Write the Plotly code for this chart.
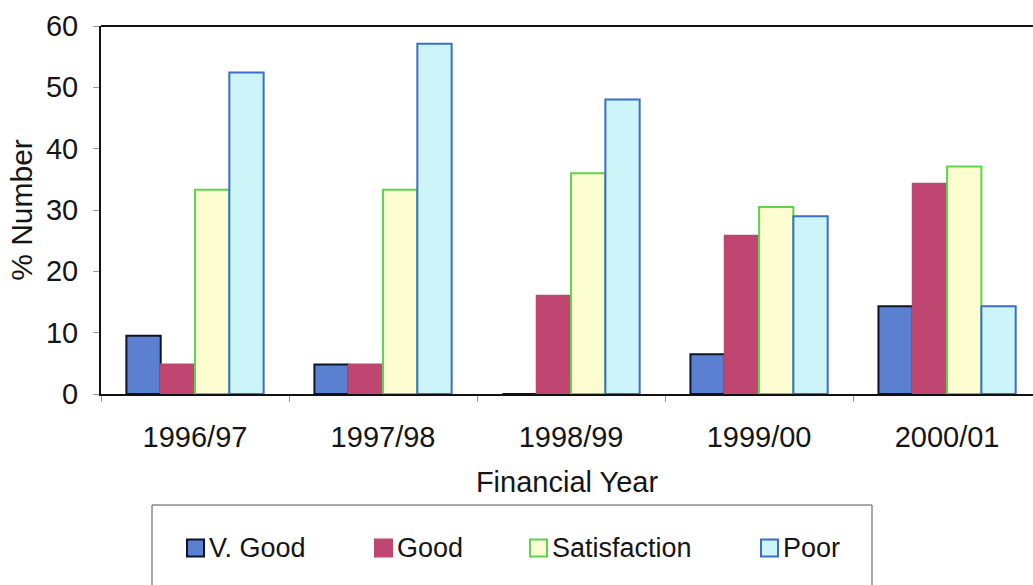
import plotly.graph_objects as go

years = ["1996/97", "1997/98", "1998/99", "1999/00", "2000/01"]
v_good = [9.5, 4.8, 0.0, 6.5, 14.3]
good = [4.8, 4.8, 16.0, 25.8, 34.3]
satisfaction = [33.3, 33.3, 36.0, 30.5, 37.1]
poor = [52.4, 57.1, 48.0, 29.0, 14.3]

series = [
    ("V. Good", v_good, "#5b80d2", "#0d1428"),
    ("Good", good, "#bf4670", "#bf4670"),
    ("Satisfaction", satisfaction, "#fdfdd2", "#5fd44e"),
    ("Poor", poor, "#cdf5f9", "#3b6fc6"),
]

FONT = "Liberation Sans, Arial, sans-serif"
TXT = "#151515"

W, H = 1033, 585
L, T, B, R = 101, 26, 191, 0
pw = W - L - R
ph = H - T - B


def px_x(x):
    return (x - L) / pw


def px_y(y):
    return (H - B - y) / ph


fig = go.Figure()
for name, vals, fill, edge in series:
    fig.add_trace(go.Bar(
        x=years, y=vals, name=name, showlegend=False,
        marker=dict(color=fill, line=dict(color=edge, width=2)),
    ))

shapes = [
    # top frame line
    dict(type="line", xref="paper", yref="paper",
         x0=0, x1=1, y0=1, y1=1,
         line=dict(color="#111111", width=2)),
    # legend frame
    dict(type="rect", xref="paper", yref="paper",
         x0=px_x(152), x1=px_x(872), y0=px_y(505), y1=px_y(600),
         line=dict(color="#555555", width=1), fillcolor="rgba(0,0,0,0)"),
]
annotations = []

# legend entries: key square followed by its label
key_left = [187, 375, 530, 761]
key_size = 17
key_cy = 548
for (name, _, fill, edge), kx in zip(series, key_left):
    shapes.append(dict(
        type="rect", xref="paper", yref="paper",
        x0=px_x(kx), x1=px_x(kx + key_size),
        y0=px_y(key_cy + key_size / 2), y1=px_y(key_cy - key_size / 2),
        fillcolor=fill, line=dict(color=edge, width=2),
    ))
    annotations.append(dict(
        text=name, xref="paper", yref="paper",
        x=px_x(kx + key_size + 3), xanchor="left",
        y=px_y(key_cy), yanchor="middle",
        showarrow=False, font=dict(family=FONT, size=27, color=TXT),
    ))

fig.update_layout(
    width=W, height=H,
    margin=dict(l=L, r=R, t=T, b=B, pad=0),
    paper_bgcolor="white", plot_bgcolor="white",
    barmode="group", bargap=0.27, bargroupgap=0,
    font=dict(family=FONT, size=29, color=TXT),
    showlegend=False,
    xaxis=dict(
        range=[-0.5, 4.457],
        showline=True, linecolor="#111111", linewidth=2,
        ticks="outside", tickson="boundaries", ticklen=6,
        tickcolor="#999999", tickwidth=1,
        ticklabelstandoff=16,
        tickfont=dict(size=29),
        title=dict(text="Financial Year", font=dict(size=29), standoff=20),
        showgrid=False, zeroline=False,
    ),
    yaxis=dict(
        range=[0, 60], dtick=10,
        showline=True, linecolor="#111111", linewidth=2,
        ticks="outside", ticklen=6, tickcolor="#999999", tickwidth=1,
        ticklabelstandoff=9,
        tickfont=dict(size=29),
        title=dict(text="% Number", font=dict(size=30), standoff=4),
        showgrid=False, zeroline=False,
    ),
    shapes=shapes,
    annotations=annotations,
)

fig.write_html("out.html")
